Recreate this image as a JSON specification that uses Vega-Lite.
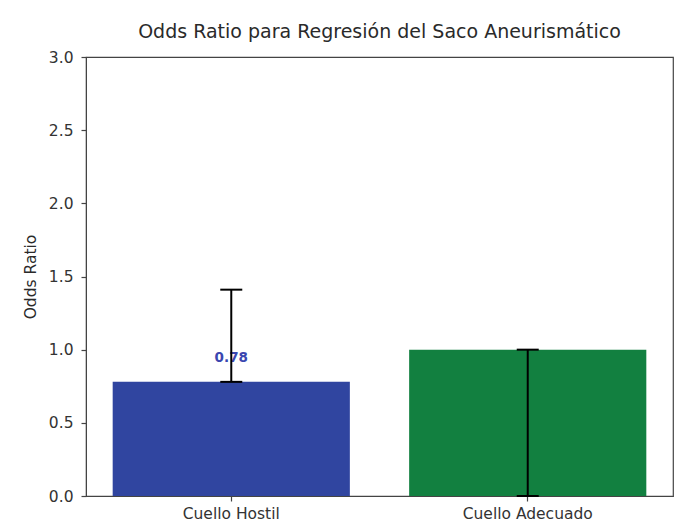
{
  "$schema": "https://vega.github.io/schema/vega-lite/v6.json",
  "width": 587,
  "height": 439,
  "autosize": "none",
  "padding": {"left": 86, "top": 57, "right": 11, "bottom": 33},
  "background": "white",
  "title": {
    "text": "Odds Ratio para Regresión del Saco Aneurismático",
    "font": "DejaVu Sans",
    "fontSize": 19,
    "fontWeight": "normal",
    "color": "#2a2a2a",
    "anchor": "middle",
    "offset": 8
  },
  "config": {
    "view": {"stroke": "#444444", "strokeWidth": 1.2},
    "axis": {
      "domainColor": "#444444",
      "tickColor": "#444444",
      "tickSize": 5,
      "tickWidth": 1.2,
      "labelFont": "DejaVu Sans",
      "labelFontSize": 15.5,
      "labelColor": "#333333",
      "titleFont": "DejaVu Sans",
      "titleFontSize": 15.5,
      "titleFontWeight": "normal",
      "titleColor": "#2a2a2a",
      "grid": false
    }
  },
  "data": {
    "values": [
      {"cuello": "Cuello Hostil", "or": 0.78, "lo": 0.78, "hi": 1.41, "label": "0.78"},
      {"cuello": "Cuello Adecuado", "or": 1.0, "lo": 0.0, "hi": 1.0, "label": ""}
    ]
  },
  "encoding": {
    "x": {
      "field": "cuello",
      "type": "nominal",
      "sort": null,
      "scale": {"paddingInner": 0.2, "paddingOuter": 0.09},
      "axis": {"title": null, "labelAngle": 0, "labelPadding": 5}
    }
  },
  "layer": [
    {
      "mark": {"type": "bar"},
      "encoding": {
        "y": {
          "field": "or",
          "type": "quantitative",
          "scale": {"domain": [0, 3]},
          "axis": {
            "title": "Odds Ratio",
            "values": [0, 0.5, 1, 1.5, 2, 2.5, 3],
            "format": ".1f",
            "labelPadding": 8,
            "titlePadding": 10
          }
        },
        "color": {
          "field": "cuello",
          "type": "nominal",
          "scale": {"domain": ["Cuello Hostil", "Cuello Adecuado"], "range": ["#3045a0", "#128040"]},
          "legend": null
        }
      }
    },
    {
      "transform": [{"filter": "datum.label != ''"}],
      "mark": {"type": "text", "color": "#3b47b0", "font": "DejaVu Sans", "fontWeight": "bold", "fontSize": 13.5, "baseline": "middle", "dy": -24},
      "encoding": {
        "y": {"field": "or", "type": "quantitative"},
        "text": {"field": "label"}
      }
    },
    {
      "mark": {"type": "rule", "strokeWidth": 2, "color": "#000000"},
      "encoding": {
        "y": {"field": "lo", "type": "quantitative"},
        "y2": {"field": "hi"}
      }
    },
    {
      "mark": {"type": "tick", "orient": "horizontal", "size": 22, "thickness": 2, "color": "#000000", "opacity": 1},
      "encoding": {"y": {"field": "lo", "type": "quantitative"}}
    },
    {
      "mark": {"type": "tick", "orient": "horizontal", "size": 22, "thickness": 2, "color": "#000000", "opacity": 1},
      "encoding": {"y": {"field": "hi", "type": "quantitative"}}
    }
  ]
}
